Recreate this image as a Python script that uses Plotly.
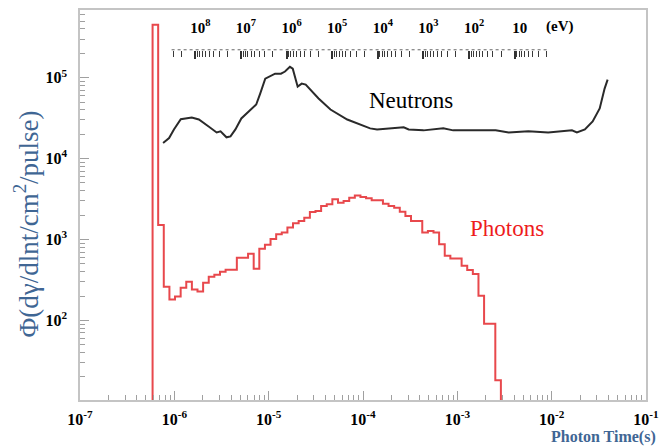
import plotly.graph_objects as go

# ---------------- data ----------------
# Neutron spectrum: time-of-flight (s) and flux
neutron_time = [7.6e-7, 8.8e-7, 9.9e-7, 1.17e-6, 1.53e-6, 1.82e-6, 2.31e-6, 2.81e-6,
                3.09e-6, 3.57e-6, 3.94e-6, 4.44e-6, 5.13e-6, 6.38e-6, 7.38e-6, 8.13e-6,
                9.2e-6, 1.17e-5, 1.35e-5, 1.49e-5, 1.68e-5, 1.80e-5, 2.03e-5, 2.24e-5,
                2.47e-5, 3.38e-5, 4.52e-5, 6.81e-5, 1.19e-4, 1.41e-4, 2.12e-4, 2.70e-4,
                3.05e-4, 4.38e-4, 7.10e-4, 9.03e-4, 1.47e-3, 2.55e-3, 3.50e-3, 5.66e-3,
                9.19e-3, 1.64e-2, 1.85e-2, 2.25e-2, 2.72e-2, 3.23e-2, 3.64e-2, 3.92e-2]
neutron_flux = [1.56e4, 1.79e4, 2.29e4, 3.07e4, 3.22e4, 3.04e4, 2.49e4, 2.10e4,
                2.17e4, 1.83e4, 1.88e4, 2.29e4, 3.13e4, 3.93e4, 4.66e4, 6.36e4,
                9.7e4, 1.12e5, 1.12e5, 1.19e5, 1.36e5, 1.29e5, 7.74e4, 8.44e4,
                8.2e4, 5.52e4, 4.04e4, 3.04e4, 2.36e4, 2.29e4, 2.36e4, 2.43e4,
                2.29e4, 2.23e4, 2.36e4, 2.23e4, 2.23e4, 2.23e4, 2.10e4, 2.17e4,
                2.10e4, 2.23e4, 2.10e4, 2.29e4, 2.88e4, 4.16e4, 7.33e4, 9.44e4]

# Photon histogram: bin edges (s) and bin contents
photon_edges = [5.88e-7, 6.74e-7, 7.73e-7, 8.87e-7, 1.017e-6, 1.167e-6, 1.338e-6, 1.535e-6,
                1.760e-6, 2.019e-6, 2.316e-6, 2.656e-6, 3.047e-6, 3.495e-6, 4.009e-6, 4.598e-6,
                5.274e-6, 6.049e-6, 6.938e-6, 7.958e-6, 9.128e-6, 1.047e-5, 1.201e-5, 1.377e-5,
                1.580e-5, 1.812e-5, 2.079e-5, 2.384e-5, 2.735e-5, 3.137e-5, 3.598e-5, 4.127e-5,
                4.733e-5, 5.429e-5, 6.227e-5, 7.143e-5, 8.193e-5, 9.397e-5, 1.078e-4, 1.236e-4,
                1.418e-4, 1.627e-4, 1.866e-4, 2.140e-4, 2.455e-4, 2.815e-4, 3.229e-4, 3.704e-4,
                4.248e-4, 4.873e-4, 5.589e-4, 6.411e-4, 7.354e-4, 8.435e-4, 9.674e-4, 1.110e-3,
                1.273e-3, 1.460e-3, 1.675e-3, 1.921e-3, 2.203e-3, 2.527e-3, 2.895e-3]
photon_flux = [4.49e5, 1514, 261, 181, 197, 254, 301, 240,
               227, 292, 347, 367, 399, 423, 423, 594,
               594, 665, 435, 766, 858, 1017, 1161, 1216,
               1401, 1585, 1693, 1859, 2183, 2247, 2590, 2716,
               3130, 2844, 2985, 3277, 3486, 3339, 3221, 3043,
               3043, 2766, 2590, 2469, 2206, 1951, 1693, 1693,
               1216, 1276, 1216, 875, 628, 582, 582, 473,
               419, 374, 202, 90.8, 90.8, 18.2]

# Axis ticks
x_tick_vals = [1e-7, 1e-6, 1e-5, 1e-4, 1e-3, 1e-2, 1e-1]
x_tick_text = ["10<sup>-7</sup>", "10<sup>-6</sup>", "10<sup>-5</sup>", "10<sup>-4</sup>",
               "10<sup>-3</sup>", "10<sup>-2</sup>", "10<sup>-1</sup>"]
y_tick_vals = [1e2, 1e3, 1e4, 1e5]
y_tick_text = ["10<sup>2</sup>", "10<sup>3</sup>", "10<sup>4</sup>", "10<sup>5</sup>"]
energy_tick_vals = [1e8, 1e7, 1e6, 1e5, 1e4, 1e3, 1e2, 1e1]
energy_tick_text = ["10<sup>8</sup>", "10<sup>7</sup>", "10<sup>6</sup>", "10<sup>5</sup>",
                    "10<sup>4</sup>", "10<sup>3</sup>", "10<sup>2</sup>", "10"]
energy_span = [3.3e8, 1.9]   # extent of the energy scale (eV)

# ---------------- figure ----------------
serif = "Liberation Serif"
blue = "#3f6694"
axis_grey = "#c4c4c4"
tick_grey = "#a0a0a0"

x_minor = [d * 10.0 ** k for k in range(-7, -1) for d in range(2, 10)]
y_minor = [d * 10.0 ** k for k in range(1, 6) for d in range(2, 10)]
e_minor = [d * 10.0 ** k for k in range(0, 9) for d in range(2, 10)
           if energy_span[1] <= d * 10.0 ** k <= energy_span[0]]

floor = 1.0
fig = go.Figure()
fig.add_trace(go.Scatter(
    x=[photon_edges[0]] + photon_edges,
    y=[floor] + photon_flux + [floor],
    mode="lines", line=dict(color="#e8484c", width=2, shape="hv"),
    hoverinfo="skip"))
fig.add_trace(go.Scatter(
    x=neutron_time, y=neutron_flux, mode="lines",
    line=dict(color="#2a2a2a", width=2), hoverinfo="skip"))
# carrier trace for the energy scale
fig.add_trace(go.Scatter(x=[energy_tick_vals[0], energy_tick_vals[-1]], y=[floor, floor],
                         xaxis="x2", yaxis="y", mode="lines",
                         line=dict(width=0), hoverinfo="skip"))

fig.add_shape(type="line", xref="x2", yref="paper",
              x0=energy_span[0], x1=energy_span[1],
              y0=0.898, y1=0.898, line=dict(color="#666666", width=1, dash="dot"))

tickfont = dict(family=serif, size=16, color="black", weight="bold")
fig.update_layout(
    width=667, height=447,
    margin=dict(l=80, r=14, t=8, b=47),
    plot_bgcolor="white", paper_bgcolor="white",
    showlegend=False,
    xaxis=dict(type="log", range=[-7, -1], tickmode="array",
               tickvals=x_tick_vals, ticktext=x_tick_text,
               ticks="inside", ticklen=9, tickwidth=1, tickcolor=tick_grey,
               minor=dict(tickmode="array", tickvals=x_minor, ticks="inside",
                          ticklen=5, tickcolor=tick_grey, showgrid=False),
               showline=True, linecolor=axis_grey, linewidth=1.5, mirror=True,
               showgrid=False, zeroline=False, tickfont=tickfont,
               ticklabelstandoff=4),
    yaxis=dict(type="log", range=[1.016, 5.836], tickmode="array",
               tickvals=y_tick_vals, ticktext=y_tick_text,
               ticks="inside", ticklen=9, tickwidth=1, tickcolor=tick_grey,
               minor=dict(tickmode="array", tickvals=y_minor, ticks="inside",
                          ticklen=5, tickcolor=tick_grey, showgrid=False),
               showline=True, linecolor=axis_grey, linewidth=1.5, mirror=True,
               showgrid=False, zeroline=False, tickfont=tickfont,
               ticklabelstandoff=8),
    xaxis2=dict(type="log", overlaying="x", anchor="free", position=0.898,
                side="top", range=[10.526, -1.876], tickmode="array",
                tickvals=energy_tick_vals, ticktext=energy_tick_text,
                ticks="inside", ticklen=8, tickwidth=1.5, tickcolor="#333333",
                minor=dict(tickmode="array", tickvals=e_minor, ticks="inside",
                           ticklen=6, tickwidth=1.2, tickcolor="#3a3a3a", showgrid=False),
                showline=False, showgrid=False, zeroline=False,
                tickfont=dict(family=serif, size=15, color="black", weight="bold"),
                ticklabelstandoff=14, ticklabelshift=-5),
)

fig.add_annotation(text="(eV)", xref="paper", yref="paper", x=0.848, y=0.958,
                   xanchor="center", yanchor="middle",
                   showarrow=False, font=dict(family=serif, size=15, color="black",
                                              weight="bold"))
fig.add_annotation(text="Neutrons", xref="x", yref="y", x=-3.492, y=4.717,
                   showarrow=False, font=dict(family=serif, size=23, color="black"))
fig.add_annotation(text="Photons", xref="x", yref="y", x=-2.476, y=3.131,
                   showarrow=False, font=dict(family=serif, size=23, color="#ee1c1c"))
fig.add_annotation(text="Φ(dγ/dlnt/cm<sup>2</sup>/pulse)", xref="paper", yref="paper",
                   x=0, xshift=-54, y=0.45, textangle=-90, showarrow=False,
                   xanchor="center", yanchor="middle",
                   font=dict(family=serif, size=27, color=blue))
fig.add_annotation(text="Photon Time(s)", xref="paper", yref="paper",
                   x=1.021, y=-0.094, xanchor="right", yanchor="middle",
                   showarrow=False,
                   font=dict(family=serif, size=16, color=blue, weight="bold"))

fig.write_html("out.html")
